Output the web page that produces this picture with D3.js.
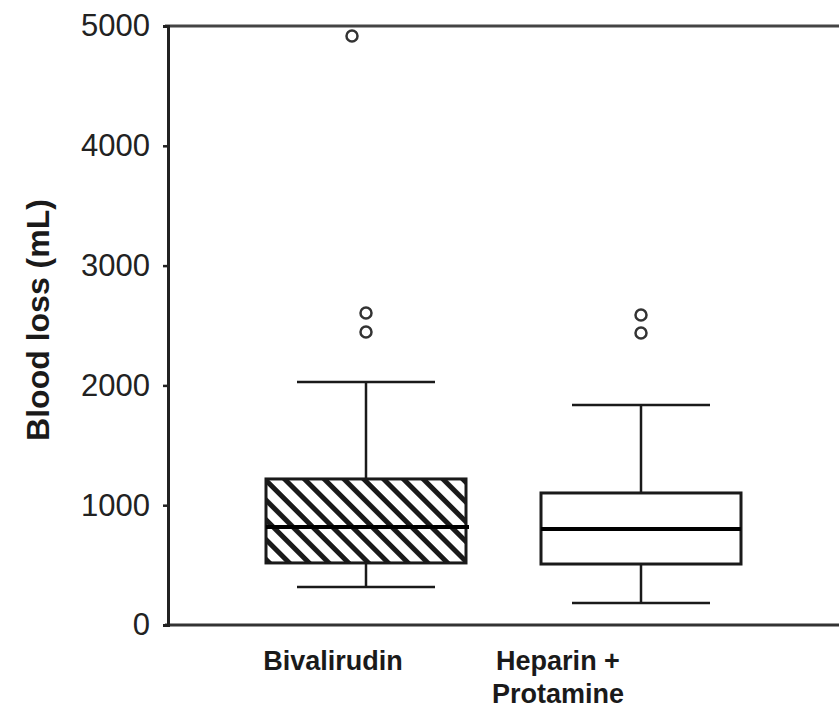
<!DOCTYPE html>
<html>
<head>
<meta charset="utf-8">
<script src="https://cdn.jsdelivr.net/npm/d3@7/dist/d3.min.js"></script>
<style>
  body { margin: 0; background: #fff; }
  text { font-family: "Liberation Sans", Arial, Helvetica, sans-serif; }
</style>
</head>
<body>
<div id="chart"></div>
<script>
// data
var groups = ["Bivalirudin", "Heparin + Protamine"];
var groupLabels = [["Bivalirudin"], ["Heparin +", "Protamine"]];
var whiskerLow = [317, 184];
var q1 = [518, 509];
var median = [818, 801];
var q3 = [1219, 1102];
var whiskerHigh = [2028, 1836];
var outliers = [[2446, 2604, 4917], [2437, 2588]];
var yTicks = [0, 1000, 2000, 3000, 4000, 5000];

// dimensions
var width = 839;
var height = 710;

var svg = d3.select("#chart")
    .append("svg")
    .attr("width", width)
    .attr("height", height);

var x = d3.scalePoint()
    .domain(groups)
    .range([168, 839])
    .padding(0.72);

// category labels sit left of the box centres in the original
var xLabel = d3.scalePoint()
    .domain(groups)
    .range([333, 558]);

var y = d3.scaleLinear()
    .domain([0, 5000])
    .range([625, 26]);

var boxW = 200;
var capW = 138;
var ink = "#1a1a1a";

// hatch pattern for the first box
var defs = svg.append("defs");
defs.append("pattern")
    .attr("id", "hatch")
    .attr("patternUnits", "userSpaceOnUse")
    .attr("width", 14)
    .attr("height", 14)
    .attr("patternTransform", "rotate(-45)")
    .append("rect")
    .attr("x", 0)
    .attr("y", 0)
    .attr("width", 5)
    .attr("height", 14)
    .attr("fill", ink);

// frame: top line and bottom axis line
svg.append("line")
    .attr("x1", 165).attr("x2", width)
    .attr("y1", y(5000)).attr("y2", y(5000))
    .style("stroke", "#444")
    .style("stroke-width", 3);

svg.append("line")
    .attr("x1", 165).attr("x2", width)
    .attr("y1", y(0)).attr("y2", y(0))
    .style("stroke", "#333")
    .style("stroke-width", 3);

// y axis
var yAxis = svg.append("g")
    .attr("transform", "translate(168,0)")
    .call(d3.axisLeft(y).tickValues(yTicks).tickSize(5).tickPadding(13).tickFormat(d3.format("d")));

yAxis.select(".domain")
    .style("stroke", "#222")
    .style("stroke-width", 3);
yAxis.selectAll(".tick line")
    .style("stroke", "#222")
    .style("stroke-width", 2.5);
yAxis.selectAll(".tick text")
    .style("font-size", "31px")
    .style("font-family", "'Liberation Sans', Arial, sans-serif")
    .attr("fill", "#222");

svg.append("text")
    .attr("transform", "translate(49,320) rotate(-90)")
    .attr("text-anchor", "middle")
    .style("font-size", "32px")
    .style("font-weight", "bold")
    .attr("fill", ink)
    .text("Blood loss (mL)");

// boxes
var box = svg.selectAll(".box")
    .data(groups)
    .enter()
    .append("g")
    .attr("class", "box");

// upper whisker
box.append("line")
    .attr("x1", function (d) { return x(d); })
    .attr("x2", function (d) { return x(d); })
    .attr("y1", function (d, i) { return y(q3[i]); })
    .attr("y2", function (d, i) { return y(whiskerHigh[i]); })
    .style("stroke", ink)
    .style("stroke-width", 2.5);

// lower whisker
box.append("line")
    .attr("x1", function (d) { return x(d); })
    .attr("x2", function (d) { return x(d); })
    .attr("y1", function (d, i) { return y(q1[i]); })
    .attr("y2", function (d, i) { return y(whiskerLow[i]); })
    .style("stroke", ink)
    .style("stroke-width", 2.5);

box.append("line")
    .attr("x1", function (d) { return x(d) - capW / 2; })
    .attr("x2", function (d) { return x(d) + capW / 2; })
    .attr("y1", function (d, i) { return y(whiskerHigh[i]); })
    .attr("y2", function (d, i) { return y(whiskerHigh[i]); })
    .style("stroke", ink)
    .style("stroke-width", 2.5);

box.append("line")
    .attr("x1", function (d) { return x(d) - capW / 2; })
    .attr("x2", function (d) { return x(d) + capW / 2; })
    .attr("y1", function (d, i) { return y(whiskerLow[i]); })
    .attr("y2", function (d, i) { return y(whiskerLow[i]); })
    .style("stroke", ink)
    .style("stroke-width", 2.5);

box.append("rect")
    .attr("x", function (d) { return x(d) - boxW / 2; })
    .attr("width", boxW)
    .attr("y", function (d, i) { return y(q3[i]); })
    .attr("height", function (d, i) { return y(q1[i]) - y(q3[i]); })
    .style("fill", function (d, i) { return i === 0 ? "url(#hatch)" : "#fff"; })
    .style("stroke", ink)
    .style("stroke-width", 3);

box.append("line")
    .attr("x1", function (d) { return x(d) - boxW / 2; })
    .attr("x2", function (d, i) { return x(d) + boxW / 2 + (i === 0 ? 3 : 0); })
    .attr("y1", function (d, i) { return y(median[i]); })
    .attr("y2", function (d, i) { return y(median[i]); })
    .style("stroke", "#000")
    .style("stroke-width", 4);

box.each(function (d, i) {
    d3.select(this).selectAll(".outlier")
        .data(outliers[i])
        .enter()
        .append("circle")
        .attr("class", "outlier")
        // the far outlier is nudged left in the original
        .attr("cx", function (v) { return x(d) - (v > 4000 ? 14 : 0); })
        .attr("cy", function (v) { return y(v); })
        .attr("r", 5.5)
        .style("fill", "none")
        .style("stroke", "#333")
        .style("stroke-width", 2.5);
});

// category labels
var lab = svg.selectAll(".catLabel")
    .data(groups)
    .enter()
    .append("text")
    .attr("class", "catLabel")
    .attr("text-anchor", "middle")
    .style("font-size", "27px")
    .style("font-weight", "bold")
    .attr("fill", ink);

lab.selectAll("tspan")
    .data(function (d, i) { return groupLabels[i].map(function (t) { return { t: t, g: d }; }); })
    .enter()
    .append("tspan")
    .attr("x", function (d) { return xLabel(d.g); })
    .attr("y", function (d, j) { return 670 + j * 33; })
    .text(function (d) { return d.t; });
</script>
</body>
</html>
